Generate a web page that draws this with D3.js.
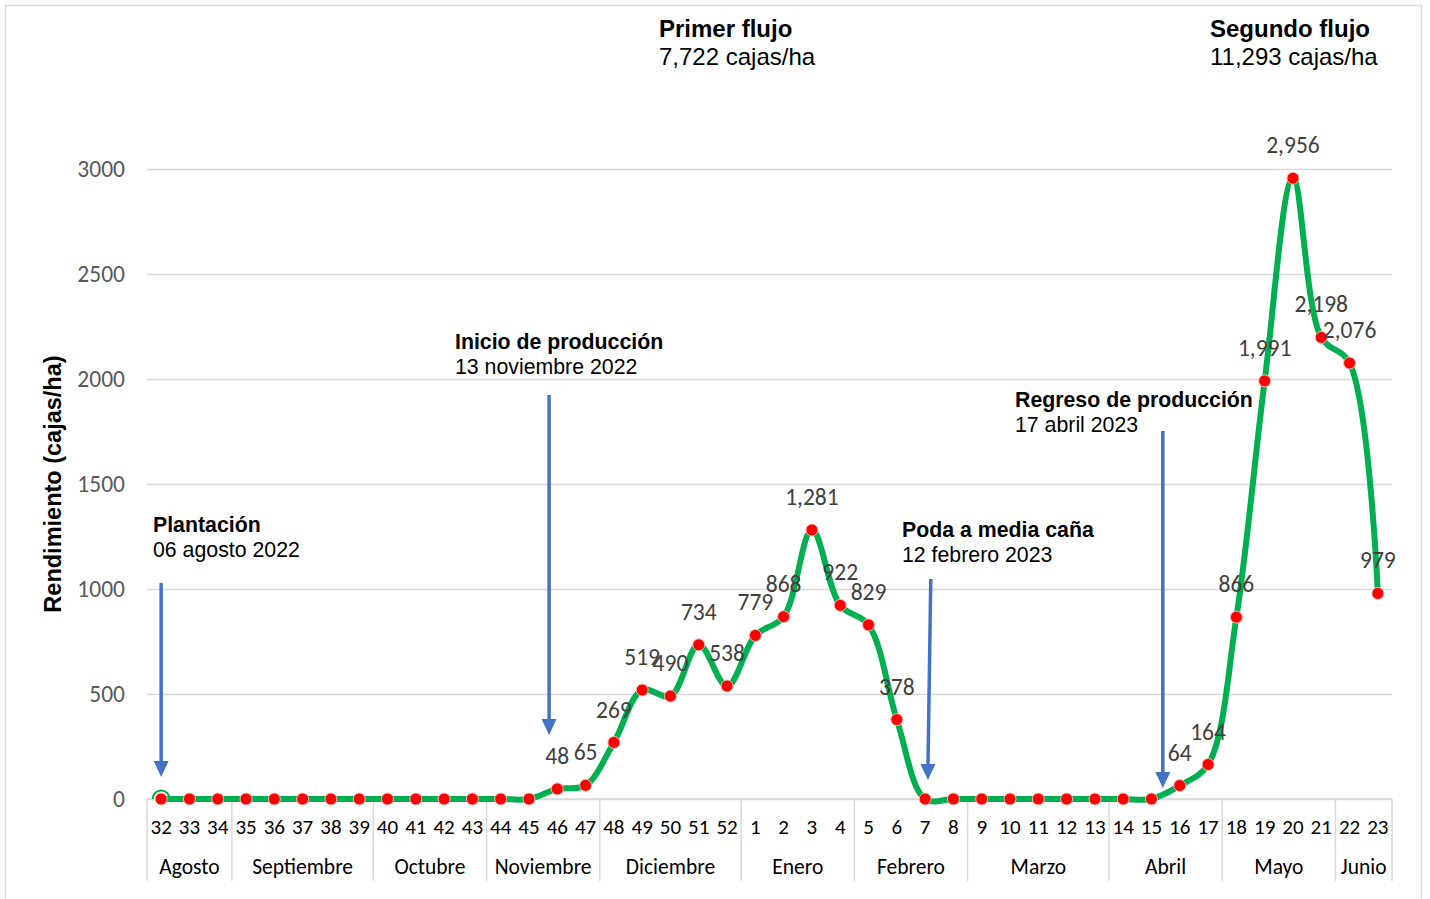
<!DOCTYPE html>
<html>
<head>
<meta charset="utf-8">
<script src="https://cdn.jsdelivr.net/npm/d3@7"></script>
<style>
  body { margin: 0; background: #fff; }
</style>
</head>
<body>
<div id="chart"></div>
<script>
// weeks (2022: 32-52, 2023: 1-23) and boxes/ha per week
const weeks = [32, 33, 34, 35, 36, 37, 38, 39, 40, 41, 42, 43, 44, 45, 46, 47, 48, 49, 50, 51, 52,
    1, 2, 3, 4, 5, 6, 7, 8, 9, 10, 11, 12, 13, 14, 15, 16, 17, 18, 19, 20, 21, 22, 23];
const yields = [0, 0, 0, 0, 0, 0, 0, 0, 0, 0, 0, 0, 0, 0, 48, 65, 269, 519, 490, 734, 538,
    779, 868, 1281, 922, 829, 378, 0, 0, 0, 0, 0, 0, 0, 0, 0, 64, 164, 866, 1991, 2956, 2198, 2076, 979];
const months = ["Agosto", "Septiembre", "Octubre", "Noviembre", "Diciembre", "Enero",
    "Febrero", "Marzo", "Abril", "Mayo", "Junio"];
const monthWeeks = [3, 5, 4, 4, 5, 4, 4, 5, 4, 4, 2];
const yTicks = [0, 500, 1000, 1500, 2000, 2500, 3000];
const yTitle = "Rendimiento (cajas/ha)";

// events marked with an arrow: title, date, week index of the arrow
const eventTitles = ["Plantación", "Inicio de producción", "Poda a media caña", "Regreso de producción"];
const eventDates = ["06 agosto 2022", "13 noviembre 2022", "12 febrero 2023", "17 abril 2023"];
const eventIdx = [0, 14, 27, 35];

const flowTitles = ["Primer flujo", "Segundo flujo"];
const flowTotals = ["7,722 cajas/ha", "11,293 cajas/ha"];

const W = 1430, H = 899;
const plot = {left: 147, right: 1392, top: 169, bottom: 799};
const numFont = "Carlito, Lato, 'Open Sans', sans-serif";
const txtFont = "'Liberation Sans', Arial, sans-serif";

const svg = d3.select("#chart").append("svg")
    .attr("width", W)
    .attr("height", H);

svg.append("rect")
    .attr("x", 5.5).attr("y", 5.5)
    .attr("width", 1416).attr("height", H)
    .attr("fill", "#fff")
    .attr("stroke", "#d9d9d9")
    .attr("stroke-width", 1.5);

const x = d3.scaleBand()
    .domain(d3.range(weeks.length))
    .range([plot.left, plot.right])
    .padding(0);
const cx = i => x(i) + x.bandwidth() / 2;
const edge = i => i < weeks.length ? x(i) : plot.right;

const y = d3.scaleLinear()
    .domain([0, 3000])
    .range([plot.bottom, plot.top]);

// gridlines + y labels
const yAxis = svg.append("g")
    .attr("transform", `translate(${plot.left},0)`)
    .call(d3.axisLeft(y).tickValues(yTicks).tickSize(-(plot.right - plot.left)).tickPadding(22).tickFormat(d3.format("d")));
yAxis.select(".domain").remove();
yAxis.selectAll(".tick line").attr("stroke", "#d9d9d9").attr("stroke-width", 1.5);
yAxis.selectAll(".tick text")
    .attr("fill", "#595959")
    .style("font-family", numFont)
    .style("font-size", "23.5px");

svg.append("text")
    .attr("transform", `translate(61,${(plot.top + plot.bottom) / 2}) rotate(-90)`)
    .attr("text-anchor", "middle")
    .style("font-family", txtFont)
    .style("font-weight", "bold")
    .style("font-size", "23.5px")
    .text(yTitle);

// category axis: weeks + month groups
svg.append("line")
    .attr("x1", plot.left).attr("x2", plot.right)
    .attr("y1", plot.bottom).attr("y2", plot.bottom)
    .attr("stroke", "#d9d9d9").attr("stroke-width", 1.5);

svg.append("g").selectAll("text")
    .data(weeks)
    .join("text")
    .attr("x", (d, i) => cx(i))
    .attr("y", 834)
    .attr("text-anchor", "middle")
    .attr("fill", "#000")
    .style("font-family", numFont)
    .style("font-size", "21px")
    .text(d => d);

const bounds = [0].concat(Array.from(d3.cumsum(monthWeeks)));
svg.append("g").selectAll("line")
    .data(bounds)
    .join("line")
    .attr("x1", d => edge(d))
    .attr("x2", d => edge(d))
    .attr("y1", plot.bottom).attr("y2", 881)
    .attr("stroke", "#d9d9d9").attr("stroke-width", 1.5);

svg.append("g").selectAll("text")
    .data(months)
    .join("text")
    .attr("x", (d, i) => (edge(bounds[i]) + edge(bounds[i + 1])) / 2)
    .attr("y", 874)
    .attr("text-anchor", "middle")
    .attr("fill", "#000")
    .style("font-family", numFont)
    .style("font-size", "21.5px")
    .text(d => d);

// arrows
const arrowTop = [1029, 1924, 1048, 1752];
const arrowTip = [105, 305, 90, 52];
const arrowOff = [0, -0.29, 0.1, 0.4];
const arrowLean = [0, 0, 0.1, 0];
const blue = "#4472C4";
eventIdx.forEach(function (idx, k) {
    const xt = cx(idx) + x.bandwidth() * (arrowOff[k] + arrowLean[k]);
    const xb = cx(idx) + x.bandwidth() * arrowOff[k];
    const y0 = y(arrowTop[k]), y1 = y(arrowTip[k]);
    svg.append("line")
        .attr("x1", xt).attr("x2", xb)
        .attr("y1", y0).attr("y2", y1 - 14)
        .attr("stroke", blue).attr("stroke-width", 3.5);
    svg.append("path")
        .attr("d", `M${xb - 7.5},${y1 - 16}L${xb + 7.5},${y1 - 16}L${xb},${y1}Z`)
        .attr("fill", blue);
});

// event labels
const evX = [153, 455, 902, 1015];
const evY = [532, 349, 537, 407];
eventTitles.forEach(function (t, k) {
    const g = svg.append("text")
        .attr("x", evX[k]).attr("y", evY[k])
        .style("font-family", txtFont)
        .style("font-size", "21.3px")
        .attr("fill", "#000");
    g.append("tspan").style("font-weight", "bold").text(t);
    g.append("tspan").attr("x", evX[k]).attr("dy", 24.5).text(eventDates[k]);
});

const flX = [659, 1210];
flowTitles.forEach(function (t, k) {
    const g = svg.append("text")
        .attr("x", flX[k]).attr("y", 37)
        .style("font-family", txtFont)
        .style("font-size", "24px")
        .attr("fill", "#000");
    g.append("tspan").style("font-weight", "bold").text(t);
    g.append("tspan").attr("x", flX[k]).attr("dy", 28).text(flowTotals[k]);
});

// series
const line = d3.line()
    .x((d, i) => cx(i))
    .y(d => y(d))
    .curve(d3.curveCatmullRom.alpha(0.5));

svg.append("path")
    .datum(yields)
    .attr("d", line)
    .attr("fill", "none")
    .attr("stroke", "#00B050")
    .attr("stroke-width", 6)
    .attr("stroke-linejoin", "round");

svg.append("path")
    .attr("transform", `translate(${cx(0)},${y(yields[0])})`)
    .attr("d", d3.arc().innerRadius(7.5).outerRadius(9.5).startAngle(-Math.PI / 2).endAngle(Math.PI / 2))
    .attr("fill", "#00B050");

svg.append("g").selectAll("circle")
    .data(yields)
    .join("circle")
    .attr("cx", (d, i) => cx(i))
    .attr("cy", d => y(d))
    .attr("r", 6)
    .attr("fill", "#FF0000")
    .attr("stroke", "#f7b9b9")
    .attr("stroke-width", 1);

svg.append("g").selectAll("text")
    .data(yields.map((v, i) => ({v, i})).filter(d => d.v > 0))
    .join("text")
    .attr("x", d => cx(d.i))
    .attr("y", d => y(d.v) - 25)
    .attr("text-anchor", "middle")
    .attr("fill", "#404040")
    .style("font-family", numFont)
    .style("font-size", "23.5px")
    .text(d => d3.format(",")(d.v));
</script>
</body>
</html>
